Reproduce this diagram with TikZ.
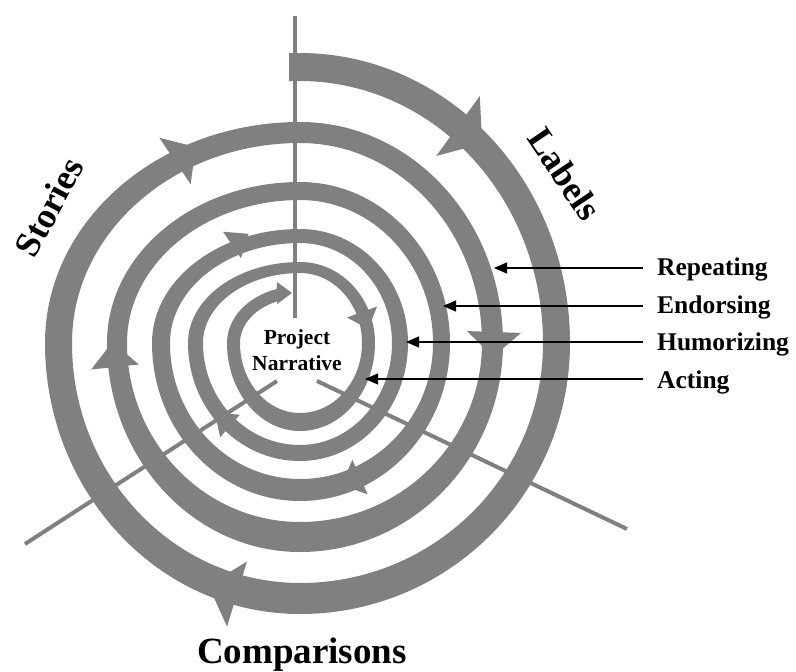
\documentclass[tikz,border=0pt]{standalone}
\usepackage{fontspec}
\setmainfont{Liberation Serif}
\usetikzlibrary{arrows.meta,calc}
\definecolor{spiralgray}{RGB}{128,128,128}
% one triangular barb on the spiral band: base centre (x,y), heading, half base, length
\newcommand\spiralbarb[5]{\fill[band,shift={(#1,#2)},rotate=#3] (0,#4) -- (#5,0) -- (0,-#4) -- cycle;}
\begin{document}
\begin{tikzpicture}[x=1pt,y=1pt,
  band/.style={fill=spiralgray},
  axisline/.style={draw=spiralgray,line width=4pt},
  pointer/.style={draw=black,line width=1.1pt,-{Triangle[length=13pt,width=11pt]}},
  sidelabel/.style={font=\bfseries\fontsize{25.5}{30}\selectfont,anchor=base west,inner xsep=14pt,inner ysep=0pt},
  theme/.style={font=\bfseries\fontsize{36}{42}\selectfont,inner sep=0pt}]
\fill[white] (0,0) rectangle (796,-672);
\useasboundingbox (0,0) rectangle (796,-672);
\coordinate (C) at (300,-343);

% the spiral band: outer edge inwards, arrow end, inner edge back out
\fill[band] ($(C)+(92.3:270 and 290)$)
  arc[start angle=92.3,end angle=0,x radius=270pt,y radius=290pt]
  arc[start angle=0,end angle=-90,x radius=270pt,y radius=271pt]
  arc[start angle=-90,end angle=-180,x radius=255pt,y radius=271pt]
  arc[start angle=180,end angle=90,x radius=255pt,y radius=221pt]
  arc[start angle=90,end angle=0,x radius=203pt,y radius=221pt]
  arc[start angle=0,end angle=-90,x radius=203pt,y radius=209pt]
  arc[start angle=-90,end angle=-180,x radius=193pt,y radius=209pt]
  arc[start angle=180,end angle=90,x radius=193pt,y radius=161pt]
  arc[start angle=90,end angle=0,x radius=150pt,y radius=161pt]
  arc[start angle=0,end angle=-90,x radius=150pt,y radius=158pt]
  arc[start angle=-90,end angle=-180,x radius=148pt,y radius=158pt]
  arc[start angle=180,end angle=90,x radius=148pt,y radius=114pt]
  arc[start angle=90,end angle=0,x radius=108pt,y radius=114pt]
  arc[start angle=0,end angle=-90,x radius=108pt,y radius=118pt]
  arc[start angle=-90,end angle=-180,x radius=112pt,y radius=118pt]
  arc[start angle=180,end angle=90,x radius=112pt,y radius=81pt]
  arc[start angle=90,end angle=0,x radius=75pt,y radius=81pt]
  arc[start angle=0,end angle=-90,x radius=75pt,y radius=88pt]
  arc[start angle=-90,end angle=-180,x radius=73pt,y radius=88pt]
  arc[start angle=180,end angle=108.6,x radius=73pt,y radius=57pt]
  -- (277,-282) -- (292,-293) -- (277,-304)
  -- ($(C)+(112.5:60 and 45)$)
  arc[start angle=112.5,end angle=180,x radius=60pt,y radius=45pt]
  arc[start angle=180,end angle=270,x radius=60pt,y radius=70pt]
  arc[start angle=270,end angle=360,x radius=62pt,y radius=70pt]
  arc[start angle=0,end angle=90,x radius=62pt,y radius=70pt]
  arc[start angle=90,end angle=180,x radius=97pt,y radius=70pt]
  arc[start angle=180,end angle=270,x radius=97pt,y radius=102pt]
  arc[start angle=270,end angle=360,x radius=92pt,y radius=102pt]
  arc[start angle=0,end angle=90,x radius=92pt,y radius=100pt]
  arc[start angle=90,end angle=180,x radius=130pt,y radius=100pt]
  arc[start angle=180,end angle=270,x radius=130pt,y radius=136pt]
  arc[start angle=270,end angle=360,x radius=133pt,y radius=136pt]
  arc[start angle=0,end angle=90,x radius=133pt,y radius=143pt]
  arc[start angle=90,end angle=180,x radius=173pt,y radius=143pt]
  arc[start angle=180,end angle=270,x radius=173pt,y radius=179pt]
  arc[start angle=270,end angle=360,x radius=182pt,y radius=179pt]
  arc[start angle=0,end angle=90,x radius=182pt,y radius=200pt]
  arc[start angle=90,end angle=180,x radius=228pt,y radius=200pt]
  arc[start angle=180,end angle=270,x radius=228pt,y radius=240pt]
  arc[start angle=270,end angle=360,x radius=243pt,y radius=240pt]
  arc[start angle=0,end angle=92.6,x radius=243pt,y radius=262pt]
  -- cycle;

% direction barbs along the band
\spiralbarb{458}{-126}{-36}{37}{30}
\spiralbarb{237}{-594}{163}{34}{30}
\spiralbarb{175}{-161}{34}{28}{25}
\spiralbarb{494}{-332}{-92}{27}{25}
\spiralbarb{115}{-367}{96}{24}{25}
\spiralbarb{232}{-245}{34}{16}{20}
\spiralbarb{362}{-312}{-70}{16}{18}
\spiralbarb{230}{-426}{139}{15}{20}
\spiralbarb{360}{-477}{-156}{19}{20}

% the three axes
\coordinate (axN1) at (295,-16);  \coordinate (axN2) at (295,-318);
\coordinate (axW1) at (277,-381); \coordinate (axW2) at (25,-544);
\coordinate (axE1) at (317,-381); \coordinate (axE2) at (627,-529);
\draw[axisline] (axN1) -- (axN2);
\draw[axisline] (axW1) -- (axW2);
\draw[axisline] (axE1) -- (axE2);

% texts
\node[font=\bfseries\fontsize{21.5}{26}\selectfont,align=center,inner sep=0pt] (core) at (297,-350) {Project\\Narrative};
\node[theme,rotate=-56] (labels) at (565,-174) {Labels};
\node[theme,rotate=62] (stories) at (49,-207) {Stories};
\node[font=\bfseries\fontsize{37}{44}\selectfont,anchor=base,inner sep=0pt] (comparisons) at (302,-663) {Comparisons};

\node[sidelabel] (rep) at (643,-275) {Repeating};
\node[sidelabel] (endo) at (643,-313) {Endorsing};
\node[sidelabel] (hum) at (643,-350) {Humorizing};
\node[sidelabel] (act) at (643,-388) {Acting};

\coordinate (tipRep) at (494,-268);
\coordinate (tipEnd) at (443,-306);
\coordinate (tipHum) at (406,-342);
\coordinate (tipAct) at (365,-379);
\draw[pointer] (tipRep -| rep.west) -- (tipRep);
\draw[pointer] (tipEnd -| endo.west) -- (tipEnd);
\draw[pointer] (tipHum -| hum.west) -- (tipHum);
\draw[pointer] (tipAct -| act.west) -- (tipAct);
\end{tikzpicture}
\end{document}
